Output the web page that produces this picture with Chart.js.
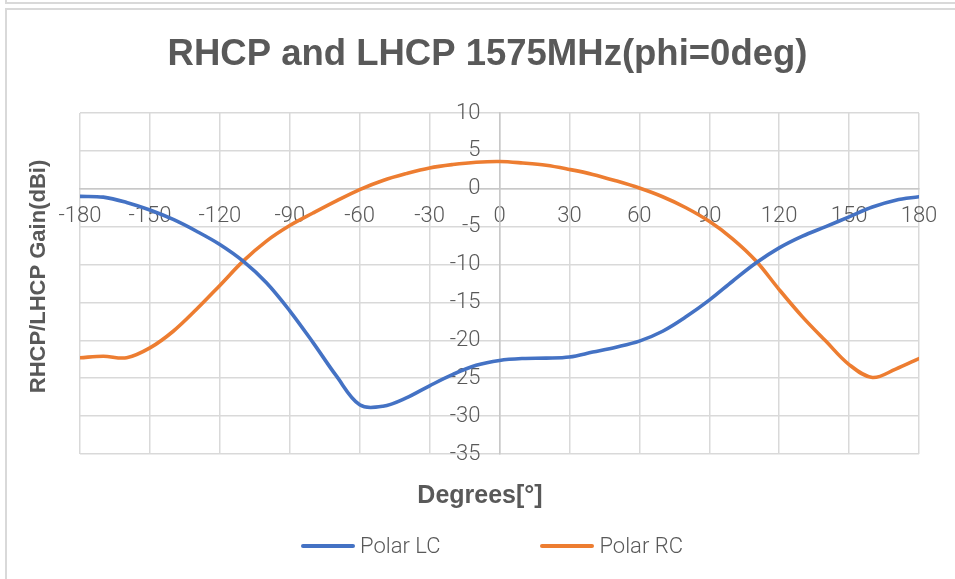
<!DOCTYPE html>
<html>
<head>
<meta charset="utf-8">
<script src="https://cdn.jsdelivr.net/npm/chart.js@4/dist/chart.umd.min.js"></script>
<style>
  html, body { margin: 0; padding: 0; background: #fff; }
  #wrap { position: relative; width: 955px; height: 579px; overflow: hidden; }
  .frame { position: absolute; border: 2px solid #d9d9d9; box-sizing: border-box; }
  #prevFrame { left: 5px; top: -20px; width: 1000px; height: 24px; }
  #chartFrame { left: 5px; top: 8px; width: 1000px; height: 640px; }
  #c { position: absolute; left: 0; top: 0; }
  #legend { position: absolute; left: 301px; top: 533px; display: flex; align-items: center;
            font-family: Roboto, 'Noto Sans', sans-serif; font-weight: 300; font-size: 22px; color: #595959; }
  .item { display: flex; align-items: center; margin-right: 100px; white-space: nowrap; }
  .swatch { width: 54px; height: 4px; border-radius: 2px; margin-right: 5px; }
</style>
</head>
<body>
<div id="wrap">
  <div class="frame" id="prevFrame"></div>
  <div class="frame" id="chartFrame"></div>
  <canvas id="c" width="955" height="579"></canvas>
  <div id="legend"></div>
</div>
<script>
// Measurement angles (degrees) and gains (dBi)
const angles = [-180,-170,-160,-150,-140,-130,-120,-110,-100,-90,-80,-70,-60,-50,-40,-30,-20,-10,
                0,10,20,30,40,50,60,70,80,90,100,110,120,130,140,150,160,170,180];
const polarLC = [-1.0,-1.1,-1.8,-2.8,-4.05,-5.6,-7.35,-9.55,-12.4,-16.1,-20.3,-24.7,-28.5,-28.7,-27.6,-26.0,-24.5,-23.3,
                 -22.65,-22.4,-22.35,-22.2,-21.55,-20.9,-20.1,-18.8,-16.9,-14.7,-12.2,-9.8,-7.8,-6.25,-5.0,-3.7,-2.4,-1.5,-1.05];
const polarRC = [-22.3,-22.1,-22.3,-21.0,-18.8,-15.9,-12.75,-9.55,-6.9,-4.85,-3.2,-1.6,-0.1,1.1,2.0,2.75,3.2,3.5,
                 3.6,3.4,3.1,2.55,1.9,1.05,0.1,-1.05,-2.5,-4.3,-6.6,-9.5,-13.3,-16.9,-20.1,-23.2,-24.9,-23.8,-22.4];
const xTickValues = [-180,-150,-120,-90,-60,-30,0,30,60,90,120,150,180];
const yTickValues = [10,5,0,-5,-10,-15,-20,-25,-30,-35];

const textColor = '#595959';
const tickFont = { family: "Roboto, 'Noto Sans', sans-serif", size: 22, weight: 300 };
const boldFont = "'Liberation Sans', Arial, sans-serif";

const toPoints = (vals) => angles.map((a, i) => ({ x: a, y: vals[i] }));

// Places the axis captions, and pushes the gain labels away from the vertical zero axis
const axisTweaks = {
  id: 'axisTweaks',
  afterLayout(chart) {
    const xc = chart.scales.xCaption;
    if (xc) { xc.left -= 39; }
    const yc = chart.scales.yCaption;
    if (yc) { yc.top -= 7; yc.bottom -= 7; }
  },
  beforeDraw(chart) {
    const y = chart.scales.y;
    const x0 = chart.scales.x.getPixelForValue(0);
    y.getLabelItems().forEach(it => { it.options.translation[0] = x0 - 19; });
  }
};

// Builds the HTML legend from the datasets
const htmlLegend = {
  id: 'htmlLegend',
  afterUpdate(chart) {
    const box = document.getElementById('legend');
    box.innerHTML = '';
    chart.data.datasets.forEach(ds => {
      const item = document.createElement('div');
      item.className = 'item';
      const sw = document.createElement('span');
      sw.className = 'swatch';
      sw.style.background = ds.borderColor;
      const tx = document.createElement('span');
      tx.textContent = ds.label;
      item.appendChild(sw);
      item.appendChild(tx);
      box.appendChild(item);
    });
  }
};

new Chart(document.getElementById('c'), {
  type: 'line',
  data: {
    datasets: [
      { label: 'Polar LC', data: toPoints(polarLC), borderColor: '#4472C4', borderWidth: 3.6,
        pointRadius: 0, tension: 0.35, fill: false, borderCapStyle: 'round', borderJoinStyle: 'round',
        xAxisID: 'x', yAxisID: 'y' },
      { label: 'Polar RC', data: toPoints(polarRC), borderColor: '#ED7D31', borderWidth: 3.6,
        pointRadius: 0, tension: 0.35, fill: false, borderCapStyle: 'round', borderJoinStyle: 'round',
        xAxisID: 'x', yAxisID: 'y' }
    ]
  },
  options: {
    responsive: false,
    animation: false,
    layout: { padding: { left: 26, right: 6, top: 0, bottom: 60 } },
    plugins: {
      legend: { display: false },
      tooltip: { enabled: false },
      title: {
        display: true,
        text: 'RHCP and LHCP 1575MHz(phi=0deg)',
        color: textColor,
        font: { family: boldFont, size: 36.5, weight: 'bold', lineHeight: 1.2 },
        padding: { top: 33.1, bottom: 36.1 }
      }
    },
    scales: {
      x: {
        type: 'linear', axis: 'x', position: { y: 0 }, min: -180, max: 180,
        afterBuildTicks: (s) => { s.ticks = xTickValues.map(v => ({ value: v })); },
        grid: { color: '#d9d9d9', lineWidth: 1.5, drawTicks: false },
        border: { color: '#c8c8c8', width: 1.5 },
        ticks: { color: textColor, font: tickFont, padding: 15, maxRotation: 0, autoSkip: false }
      },
      y: {
        type: 'linear', axis: 'y', position: { x: 0 }, min: -35, max: 10,
        afterBuildTicks: (s) => { s.ticks = yTickValues.map(v => ({ value: v })); },
        grid: { color: '#d9d9d9', lineWidth: 1.5, drawTicks: false },
        border: { color: '#c8c8c8', width: 1.5 },
        ticks: { color: textColor, font: tickFont, autoSkip: false }
      },
      yCaption: {
        type: 'linear', axis: 'y', position: 'left',
        grid: { display: false }, border: { display: false }, ticks: { display: false },
        title: { display: true, text: 'RHCP/LHCP Gain(dBi)', color: textColor,
                 font: { family: boldFont, size: 22, weight: 'bold' }, padding: 0 },
        afterFit: (s) => { s.width = 54; }
      },
      rightGap: {
        type: 'linear', axis: 'y', position: 'right',
        grid: { display: false }, border: { display: false }, ticks: { display: false },
        afterFit: (s) => { s.width = 30; }
      },
      xCaption: {
        type: 'linear', axis: 'x', position: 'bottom',
        grid: { display: false }, border: { display: false }, ticks: { display: false },
        title: { display: true, text: 'Degrees[°]', color: textColor,
                 font: { family: boldFont, size: 25, weight: 'bold' }, padding: { top: 0, bottom: 8 } },
        afterFit: (s) => { s.height = 65; }
      }
    }
  },
  plugins: [axisTweaks, htmlLegend]
});
</script>
</body>
</html>
